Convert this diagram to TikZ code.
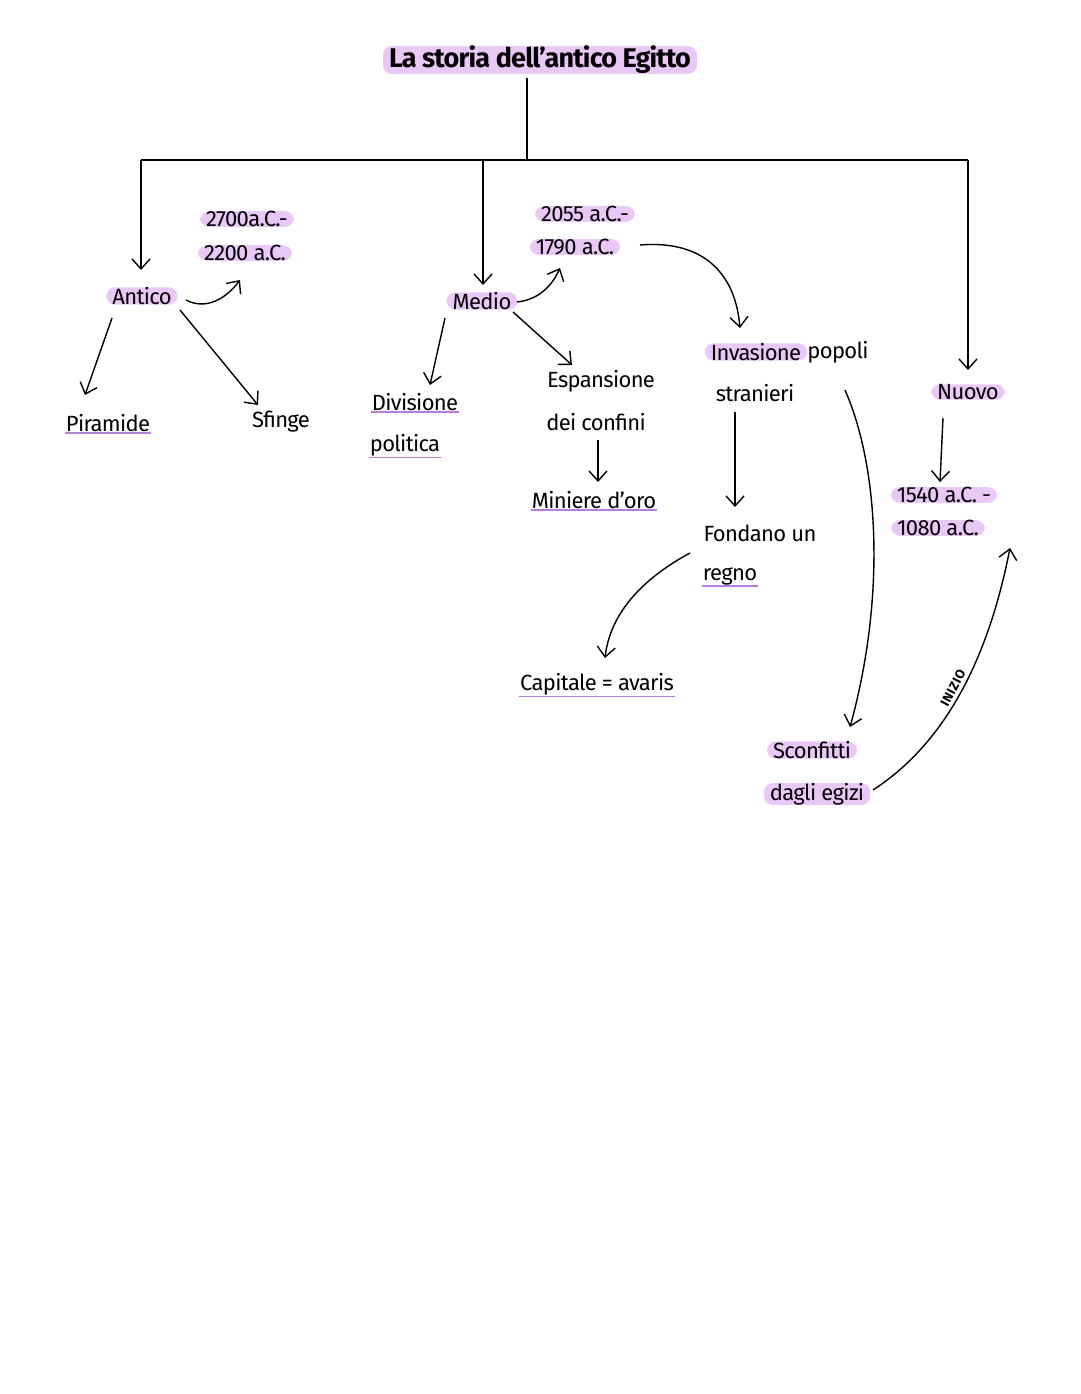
\documentclass[tikz,border=0pt]{standalone}
\usepackage{fontspec}
\setmainfont{Fira Sans}
\usetikzlibrary{arrows.meta}
\definecolor{hl}{HTML}{E9C8F7}
\definecolor{ul}{HTML}{B57ED8}
\begin{document}
\begin{tikzpicture}[x=1pt,y=-1pt,
  t/.style={font=\fontsize{22}{24}\selectfont\addfontfeature{LetterSpace=-3}, inner sep=1pt},
  h/.style={t, fill=hl, rounded corners=9pt, inner xsep=6pt, inner ysep=0pt},
  u/.style={t, append after command={(\tikzlastnode.south west) edge[draw=ul,line width=1.2pt] (\tikzlastnode.south east)}},
  ar/.style={-{Straight Barb[length=10pt,width=18pt]}, line width=1.4pt},
  ln/.style={line width=1.4pt}]
\fill[white] (0,0) rectangle (1080,1394);
\node[h, font=\fontsize{27}{30}\selectfont\bfseries\addfontfeature{LetterSpace=-3}] (title) at (540,60) {La storia dell'antico Egitto};
\coordinate (top) at (527,160);
\coordinate (L) at (141,160);
\coordinate (M) at (483,160);
\coordinate (R) at (968,160);
\draw[ln] (527,78) -- (top);
\draw[ln] (L) -- (R);
\node[h] (antico) at (142,296) {Antico};
\node[h] (d1) at (247,219) {2700a.C.-};
\node[h] (d2) at (245,253) {2200 a.C.};
\node[u] (pir) at (108,423) {Piramide};
\node[t] (sf) at (281,422) {Sfinge};
\node[h] (medio) at (482,301) {Medio};
\node[h] (d3) at (585,214) {2055 a.C.-};
\node[h] (d4) at (575,247) {1790 a.C.};
\node[u] (div1) at (415,402) {Divisione};
\node[u] (div2) at (405,445) {politica};
\node[t] (esp1) at (601,381) {Espansione};
\node[t] (esp2) at (596,422) {dei confini};
\node[u] (min) at (594,500) {Miniere d'oro};
\node[h] (inv) at (756,352) {Invasione};
\node[t] (inv2) at (838,352) {popoli};
\node[t] (str) at (755,393) {stranieri};
\node[t] (fon1) at (760,533) {Fondano un};
\node[u] (fon2) at (730,576) {regno};
\node[u] (cap) at (597,684) {Capitale = avaris};
\node[h] (nuovo) at (968,392) {Nuovo};
\node[h] (d5) at (944,495) {1540 a.C. -};
\node[h] (d6) at (938,528) {1080 a.C.};
\node[h] (sc1) at (812,750) {Sconfitti};
\node[h] (sc2) at (817,794) {dagli egizi};
\coordinate (a1) at (240,280);
\coordinate (a2) at (85,395);
\coordinate (a3) at (258,405);
\coordinate (a4) at (560,268);
\coordinate (a5) at (430,385);
\coordinate (a6) at (572,365);
\coordinate (a7) at (598,482);
\coordinate (a8) at (740,328);
\coordinate (a9) at (735,507);
\coordinate (a10) at (605,658);
\coordinate (a11) at (850,727);
\coordinate (a12) at (940,482);
\coordinate (a13) at (1010,548);
\draw[ar] (L) -- (141,270);
\draw[ar] (M) -- (483,285);
\draw[ar] (R) -- (968,370);
\draw[ar] (186,300) .. controls (205,310) and (225,300) .. (a1);
\draw[ar] (112,318) -- (a2);
\draw[ar] (180,310) -- (a3);
\draw[ar] (517,302) .. controls (535,300) and (550,290) .. (a4);
\draw[ar] (445,318) -- (a5);
\draw[ar] (513,312) -- (a6);
\draw[ar] (598,440) -- (a7);
\draw[ar] (640,245) .. controls (700,240) and (735,270) .. (a8);
\draw[ar] (735,412) -- (a9);
\draw[ar] (690,553) .. controls (640,580) and (610,615) .. (a10);
\draw[ar] (845,390) .. controls (880,470) and (885,600) .. (a11);
\draw[ar] (943,418) -- (a12);
\draw[ar] (873,790) .. controls (950,740) and (990,650) .. (a13);
\node[font=\fontsize{13}{14}\selectfont\bfseries\addfontfeature{LetterSpace=4}, rotate=62, inner sep=0pt] (iz) at (953,688) {INIZIO};
\end{tikzpicture}
\end{document}
